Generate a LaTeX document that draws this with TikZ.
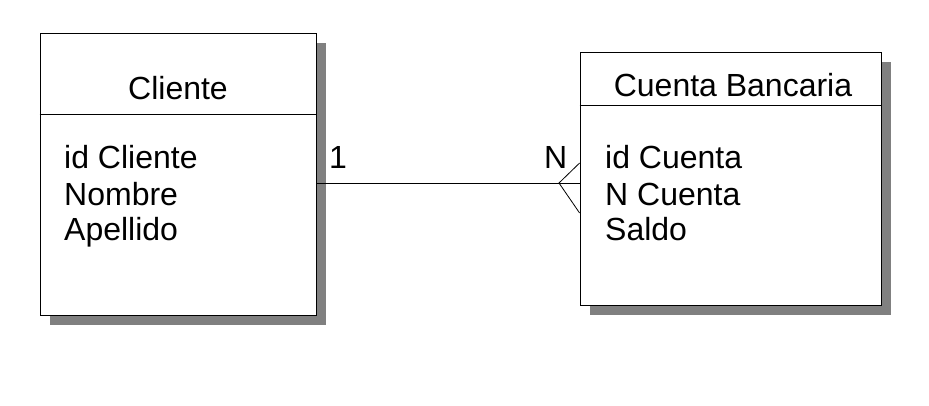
\documentclass[tikz,border=0pt]{standalone}
\usepackage{fontspec}
\setmainfont{Liberation Sans}
\usetikzlibrary{shadows}

\begin{document}
\begin{tikzpicture}[x=1pt, y=-1pt,
    entity/.style={draw, fill=white, line width=.8pt, inner sep=0pt,
      drop shadow={shadow xshift=10pt, shadow yshift=-10pt, fill=black!50, opacity=1}},
    txt/.style={draw=none, inner sep=0pt, font=\fontsize{32}{37}\selectfont}]
     \useasboundingbox (0, 0) rectangle (929, 405);

     % entidades
     \node[entity, minimum width=276pt, minimum height=282pt] (cliente) at (178, 174) {};
     \node[entity, minimum width=301pt, minimum height=253pt] (cuenta) at (730.5, 178.5) {};
     \draw[line width=.8pt] (cliente.west |- 0, 114) -- (cliente.east |- 0, 114);
     \draw[line width=.8pt] (cuenta.west |- 0, 105) -- (cuenta.east |- 0, 105);

     \node[txt, anchor=base] (tituloCliente) at (178, 99) {Cliente};
     \node[txt, anchor=base west] (idCliente) at (64, 168) {id Cliente};
     \node[txt, anchor=base west] (nombre) at (64, 205) {Nombre};
     \node[txt, anchor=base west] (apellido) at (64, 240) {Apellido};

     \node[txt, anchor=base] (tituloCuenta) at (733, 96) {Cuenta Bancaria};
     \node[txt, anchor=base west] (idCuenta) at (605, 168) {id Cuenta};
     \node[txt, anchor=base west] (nCuenta) at (605, 205) {N Cuenta};
     \node[txt, anchor=base west] (saldo) at (605, 240) {Saldo};

     % relacion 1:N
     \coordinate (pata) at (559, 183);
     \draw[line width=.8pt] (cliente.east |- pata) -- (cuenta.west |- pata);
     \draw[line width=.8pt] (cuenta.west |- 0, 163) -- (pata) -- (cuenta.west |- 0, 213);
     \node[txt, anchor=base west] (uno) at (329, 168) {1};
     \node[txt, anchor=base west] (ene) at (544, 168) {N};
\end{tikzpicture}
\end{document}
